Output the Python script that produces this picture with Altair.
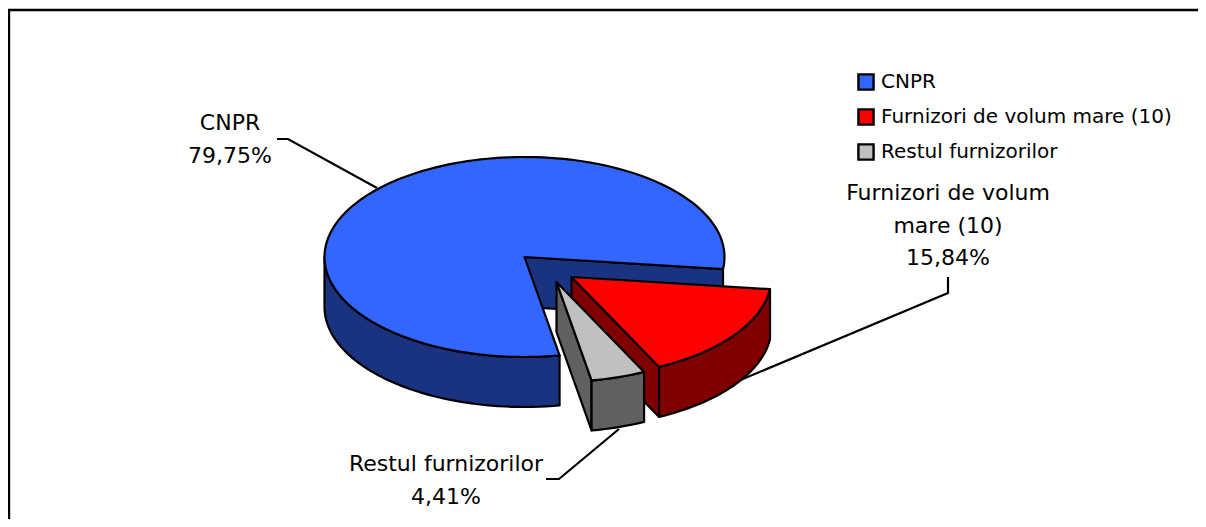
import math
import altair as alt

# ---- data
names = ["CNPR", "Furnizori de volum mare (10)", "Restul furnizorilor"]
shares = [79.75, 15.84, 4.41]
top_colors = ["#3366FF", "#FF0000", "#C0C0C0"]
side_colors = ["#1A3380", "#800000", "#606060"]
label_lines = [["CNPR", "79,75%"],
               ["Furnizori de volum", "mare (10)", "15,84%"],
               ["Restul furnizorilor", "4,41%"]]

# ---- layout (page pixels)
W, H = 1190, 511
PAGE = 8
RX, RY, DEPTH = 200, 100, 50
FIRST_ANGLE = 7.0
apexes = [(524.5, 257.0), (571.5, 277.0), (556.5, 282.0)]
label_anchor = [(230, 123), (948, 193), (446, 464)]
LINE_H = 32.7
leaders = [[(277, 139), (288, 139), (377, 188)],
           [(948, 277), (948, 293), (700, 397)],
           [(546, 479), (559, 479), (619, 429)]]
FONT = "DejaVu Sans"
FS = 22
LEGEND_FS = 20


def page(p, dy=0):
    return [p[0] - PAGE, p[1] - PAGE + dy]


def arc(apex, a0, a1, dy=0):
    n = max(2, int(abs(a1 - a0) / 2) + 1)
    pts = []
    for i in range(n + 1):
        t = math.radians(a0 + (a1 - a0) * i / n)
        pts.append(page((apex[0] + RX * math.cos(t), apex[1] + RY * math.sin(t)), dy))
    return pts


def feature(name, ring=None, line=None):
    if ring is not None:
        geom = {"type": "Polygon", "coordinates": [ring + [ring[0]]]}
    else:
        geom = {"type": "LineString", "coordinates": line}
    return {"type": "Feature", "geometry": geom, "properties": {"name": name}}


# angular extents come from the shares
a = FIRST_ANGLE
order = [1, 2, 0]  # clockwise from the first angle: red, grey, blue
ext = {}
for i in order:
    ext[i] = (a, a + shares[i] * 3.6)
    a += shares[i] * 3.6

side_names = [n + " (lateral)" for n in names]
faces = []
# blue slice
ap = apexes[0]
s, e = ext[0]
faces.append(feature(side_names[0], [page(ap), arc(ap, e, e + .01)[0],
                                     arc(ap, e, e + .01, DEPTH)[0], page(ap, DEPTH)]))
faces.append(feature(side_names[0], arc(ap, s, 180) + arc(ap, 180, s, DEPTH)))
faces.append(feature(names[0], [page(ap)] + arc(ap, s, e)))
# exploded slices
for i in (1, 2):
    ap = apexes[i]
    s, e = ext[i]
    faces.append(feature(side_names[i], [page(ap), arc(ap, e, e + .01)[0],
                                         arc(ap, e, e + .01, DEPTH)[0], page(ap, DEPTH)]))
    faces.append(feature(side_names[i], arc(ap, s, e) + arc(ap, e, s, DEPTH)))
    faces.append(feature(names[i], [page(ap)] + arc(ap, s, e)))

proj = dict(type="identity", scale=1, translate=[0, 0])

leader_chart = alt.Chart(alt.InlineData(values=[
    feature("leader", line=[page(p) for p in l]) for l in leaders
])).mark_geoshape(filled=False, stroke="black", strokeWidth=2.2).project(**proj)

frame_pts = [[1, 600], [1, 2], [W + 20, 2]]
frame_chart = alt.Chart(alt.InlineData(values=[feature("frame", line=frame_pts)])
                        ).mark_geoshape(filled=False, stroke="black", strokeWidth=2.4).project(**proj)

pie = alt.Chart(alt.InlineData(values=faces)).mark_geoshape(
    stroke="black", strokeWidth=2.2, strokeJoin="round"
).encode(
    color=alt.Color("properties.name:N",
                    scale=alt.Scale(domain=names + side_names, range=top_colors + side_colors),
                    legend=alt.Legend(values=names, title=None, orient="none",
                                      legendX=848, legendY=64, symbolType="square", symbolSize=230,
                                      symbolStrokeColor="black", symbolStrokeWidth=2.4,
                                      labelFont=FONT, labelFontSize=LEGEND_FS, labelColor="black",
                                      labelLimit=0, rowPadding=9, labelOffset=5, padding=0))
).project(**proj)

rows = []
for lines, (cx, cy) in zip(label_lines, label_anchor):
    for j, t in enumerate(lines):
        rows.append({"x": cx - PAGE, "y": cy - PAGE + j * LINE_H, "t": t})

text = alt.Chart(alt.InlineData(values=rows)).mark_text(
    font=FONT, fontSize=FS, color="black", align="center", baseline="middle"
).encode(
    x=alt.X("x:Q", scale=alt.Scale(domain=[0, W], range=[0, W]), axis=None),
    y=alt.Y("y:Q", scale=alt.Scale(domain=[0, H], range=[0, H]), axis=None),
    text="t:N",
)

chart = alt.layer(frame_chart, leader_chart, pie, text).properties(
    width=W, height=H, padding=0,
    autosize=alt.AutoSizeParams(type="none"),
).configure_view(stroke=None)

chart.save("out.html", embed_options={"renderer": "svg", "actions": False})
